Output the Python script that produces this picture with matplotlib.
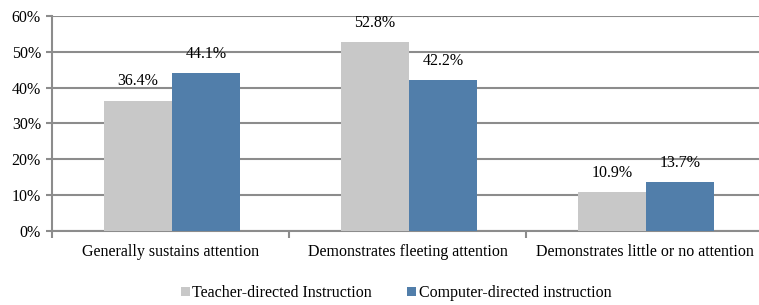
import numpy as np
import matplotlib
matplotlib.use('Agg')
import matplotlib.pyplot as plt
from matplotlib.ticker import FuncFormatter, FixedLocator

plt.rcParams['font.family'] = ['Liberation Serif', 'DejaVu Serif']
plt.rcParams['font.size'] = 11.5

# 데이터
categories = ['Generally sustains attention', 'Demonstrates fleeting attention',
              'Demonstrates little or no attention']
series_names = ['Teacher-directed Instruction', 'Computer-directed instruction']
teacher = [36.4, 52.8, 10.9]
computer = [44.1, 42.2, 13.7]

grey = '#c8c8c8'
blue = '#517eaa'
line_col = '#8c8c8c'

fig = plt.figure(figsize=(7.59, 3.05), dpi=100)
ax = fig.add_axes([0.0685, 0.2426, 0.9367, 0.705])

x = np.arange(len(categories))
w = 0.287
b1 = ax.bar(x - w / 2 + 0.006, teacher, w, color=grey, label=series_names[0], zorder=3)
b2 = ax.bar(x + w / 2 + 0.006, computer, w, color=blue, label=series_names[1], zorder=3)

for bars, vals in [(b1, teacher), (b2, computer)]:
    for bar, v in zip(bars, vals):
        ax.annotate(f'{v:.1f}%', (bar.get_x() + bar.get_width() / 2, v),
                    xytext=(0, 8), textcoords='offset points',
                    ha='center', va='bottom', zorder=4)

ax.set_ylim(0, 60)
ax.set_xlim(-0.5, 2.5)
ax.set_yticks(range(0, 61, 10))
ax.yaxis.set_major_formatter(FuncFormatter(lambda v, p: f'{v:.0f}%'))
ax.yaxis.grid(True, color=line_col, linewidth=1.5, zorder=0)
ax.set_axisbelow(True)

ax.set_xticks(x)
ax.set_xticklabels(categories)
ax.tick_params(axis='x', length=0, pad=9)
ax.xaxis.set_minor_locator(FixedLocator([-0.5, 0.5, 1.5, 2.5]))
ax.tick_params(axis='x', which='minor', length=5, color=line_col, width=1.5)
ax.tick_params(axis='y', length=4, color=line_col, width=1.5, pad=4)

for s in ['top', 'right']:
    ax.spines[s].set_visible(False)
for s in ['left', 'bottom']:
    ax.spines[s].set_color(line_col)
    ax.spines[s].set_linewidth(1.5)

fig.legend(loc='lower center', bbox_to_anchor=(0.522, -0.035), ncol=2, frameon=False,
           handlelength=0.55, handleheight=0.55, handletextpad=0.15, columnspacing=2.2)

fig.savefig('out.png', dpi=100)
